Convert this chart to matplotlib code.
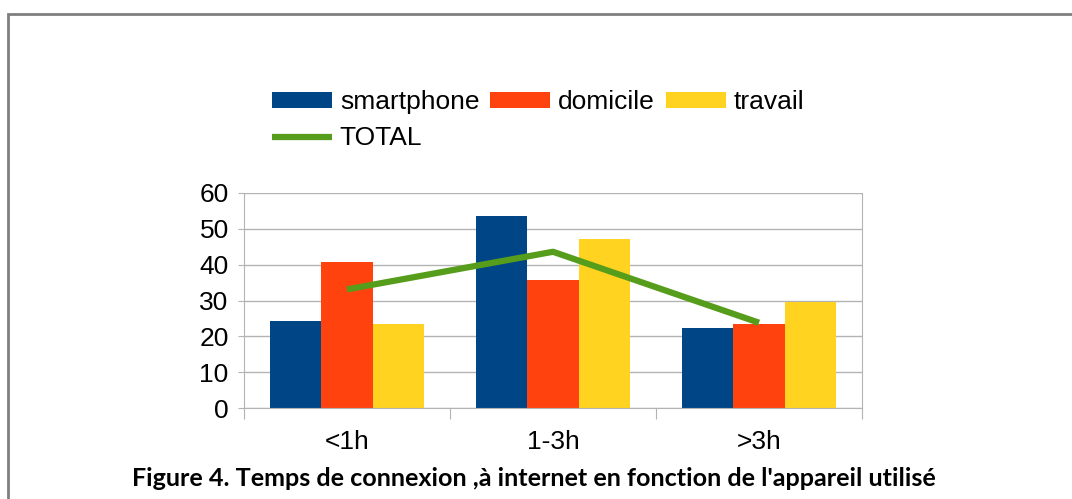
import matplotlib
matplotlib.use("Agg")
import matplotlib.pyplot as plt
from matplotlib.patches import Rectangle
from matplotlib.ticker import FixedLocator, NullFormatter
import numpy as np

categories = ["<1h", "1-3h", ">3h"]
smartphone = [24.2, 53.6, 22.2]
domicile = [40.7, 35.7, 23.5]
travail = [23.5, 47.2, 29.5]
total = [33.1, 43.6, 23.8]
yticks = [0, 10, 20, 30, 40, 50, 60]

colors = {"smartphone": "#004586", "domicile": "#FF420E", "travail": "#FFD320", "TOTAL": "#579D1C"}

plt.rcParams['font.family'] = ['Liberation Sans', 'DejaVu Sans']

W, H = 1072, 499
FS = 19
fig = plt.figure(figsize=(W / 100, H / 100), dpi=100)
fig.patch.set_facecolor("white")

# outer border
fig.patches.append(Rectangle((8 / W, -0.1), 1.2, 1.1 - 14 / H, transform=fig.transFigure,
                             fill=False, edgecolor="#7f7f7f", linewidth=2, zorder=0))

ax = fig.add_axes([244 / W, 1 - 408 / H, (862 - 244) / W, (408 - 193) / H])
x = np.arange(len(categories)) + 0.5
bw = 0.25
b1 = ax.bar(x - bw, smartphone, bw, color=colors["smartphone"], label="smartphone", zorder=2)
b2 = ax.bar(x, domicile, bw, color=colors["domicile"], label="domicile", zorder=2)
b3 = ax.bar(x + bw, travail, bw, color=colors["travail"], label="travail", zorder=2)
l1, = ax.plot(x, total, color=colors["TOTAL"], linewidth=4.5, label="TOTAL", zorder=3,
              solid_capstyle="butt")

ax.set_xlim(0, 3)
ax.set_ylim(0, 60)
ax.set_yticks(yticks)
ax.yaxis.grid(True, color="#b3b3b3", linewidth=1, zorder=0)
ax.set_axisbelow(True)
ax.xaxis.set_major_locator(FixedLocator([0, 1, 2, 3]))
ax.xaxis.set_major_formatter(NullFormatter())
ax.xaxis.set_minor_locator(FixedLocator(list(x)))
ax.set_xticklabels(categories, minor=True)
ax.tick_params(axis="x", which="major", length=8, color="#b3b3b3", direction="out")
ax.tick_params(axis="x", which="minor", length=0, pad=16, labelsize=FS)
ax.tick_params(axis="y", length=4, color="#b3b3b3", pad=7, labelsize=FS)
for s in ax.spines.values():
    s.set_color("#b3b3b3")
ax.spines["top"].set_visible(False)

fig.legend([b1, l1, b2, b3], ["smartphone", "TOTAL", "domicile", "travail"],
           ncol=3, loc="upper left", bbox_to_anchor=(272 / W, 1 - 90 / H),
           frameon=False, fontsize=FS, handlelength=2.27, handleheight=0.57,
           handletextpad=0.3, columnspacing=0.42, labelspacing=0.47, borderaxespad=0,
           borderpad=0)

fig.text(534 / W, 1 - 478 / H,
         "Figure 4. Temps de connexion ,à internet en fonction de l'appareil utilisé",
         ha="center", va="center", fontsize=18.1, fontweight="bold", family=["Lato", "DejaVu Sans"])

fig.savefig("out.png", dpi=100)
